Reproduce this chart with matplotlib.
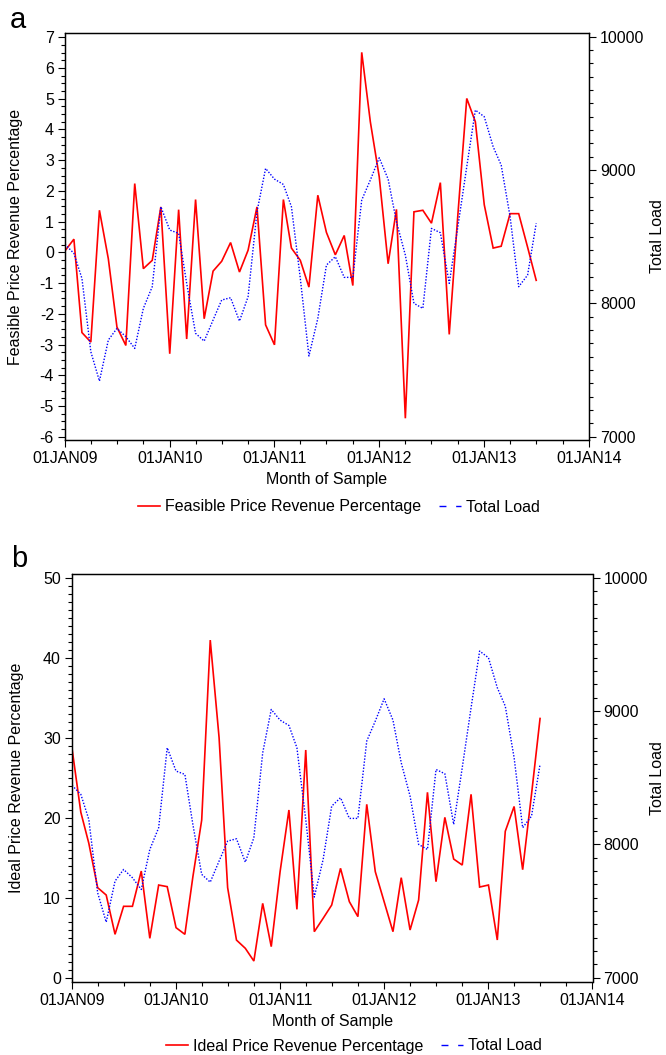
import matplotlib
matplotlib.use('Agg')
import matplotlib.pyplot as plt
import matplotlib.dates as mdates
from matplotlib.ticker import MultipleLocator, FixedLocator
from matplotlib.lines import Line2D
import pandas as pd

plt.rcParams['font.family'] = ['Liberation Sans', 'DejaVu Sans']

# ---------------- data ----------------
months = pd.date_range('2009-01-01', periods=55, freq='MS')

feasible = [0.05, 0.43, -2.61, -2.92, 1.37, -0.21, -2.43, -3.03, 2.24, -0.53,
            -0.26, 1.48, -3.30, 1.39, -2.82, 1.72, -2.16, -0.61, -0.29, 0.32,
            -0.64, 0.07, 1.48, -2.36, -3.01, 1.72, 0.14, -0.26, -1.13, 1.86,
            0.65, -0.08, 0.55, -1.08, 6.51, 4.25, 2.46, -0.37, 1.40, -5.40,
            1.32, 1.37, 0.95, 2.27, -2.67, 1.22, 5.01, 4.25, 1.55, 0.14,
            0.20, 1.26, 1.26, 0.17, -0.91]

ideal = [28.67, 20.67, 16.8, 11.25, 10.33, 5.42, 8.92, 8.92, 13.33, 4.92,
         11.58, 11.38, 6.25, 5.42, 12.6, 19.7, 42.2, 30.0, 11.25, 4.7,
         3.67, 2.08, 9.29, 3.88, 13.25, 20.96, 8.54, 28.46, 5.75, 7.42,
         9.08, 13.67, 9.5, 7.63, 21.67, 13.25, 9.5, 5.75, 12.5, 5.96,
         9.71, 23.17, 12.0, 20.04, 14.83, 14.08, 22.92, 11.33, 11.58, 4.71,
         18.3, 21.4, 13.5, 22.9, 32.4]

total_load = [8443, 8375, 8187, 7637, 7417, 7725, 7812, 7750, 7662, 7962,
              8125, 8725, 8550, 8525, 8150, 7775, 7717, 7875, 8025, 8042,
              7867, 8050, 8687, 9012, 8932, 8892, 8725, 8187, 7605, 7887,
              8287, 8350, 8195, 8195, 8775, 8925, 9092, 8932, 8612, 8362,
              8000, 7962, 8562, 8530, 8150, 8575, 9025, 9450, 9400, 9175,
              9037, 8650, 8125, 8212, 8600]

year_ticks = pd.date_range('2009-01-01', '2014-01-01', freq='YS')
quarter_ticks = pd.date_range('2009-01-01', '2014-01-01', freq='QS')
x_tick_labels = ['01JAN09', '01JAN10', '01JAN11', '01JAN12', '01JAN13', '01JAN14']

feasible_ticks = list(range(-6, 8))
ideal_ticks = [0, 10, 20, 30, 40, 50]
load_ticks = [7000, 8000, 9000, 10000]

RED = '#FF0000'
BLUE = '#0000FF'
FS = 11.5
W, H = 666, 1055

fig = plt.figure(figsize=(W / 100, H / 100), dpi=100)


def make_panel(rect, series, ylabel, ylim, yticks, yminor, rylim,
               ylab_x, rlab_x, xlab_y):
    ax = fig.add_axes(rect)
    ax.plot(months, series, color=RED, lw=1.2, solid_joinstyle='miter')
    ax.set_xlim(year_ticks[0], year_ticks[-1])
    ax.set_ylim(*ylim)
    ax.set_yticks(yticks)
    ax.set_yticklabels([str(t) for t in yticks])
    ax.yaxis.set_minor_locator(MultipleLocator(yminor))
    ax.set_xticks(year_ticks)
    ax.set_xticklabels(x_tick_labels)
    ax.xaxis.set_minor_locator(FixedLocator(mdates.date2num(quarter_ticks)))
    ax.tick_params(which='major', direction='out', length=5, width=0.8,
                   labelsize=FS, pad=3)
    ax.tick_params(which='minor', direction='out', length=3, width=0.8)
    ax.set_ylabel(ylabel, fontsize=FS)
    ax.yaxis.set_label_coords(ylab_x, 0.5)
    ax.set_xlabel('Month of Sample', fontsize=FS)
    ax.xaxis.set_label_coords(0.5, xlab_y)

    ax2 = ax.twinx()
    ax2.plot(months, total_load, color=BLUE, lw=1.0, linestyle=(0, (1, 1.2)))
    ax2.set_ylim(*rylim)
    ax2.set_yticks(load_ticks)
    ax2.set_yticklabels([str(t) for t in load_ticks])
    ax2.yaxis.set_minor_locator(MultipleLocator(100))
    ax2.tick_params(which='major', direction='out', length=5, width=0.8,
                    labelsize=FS, pad=3)
    ax2.tick_params(which='minor', direction='out', length=3, width=0.8)
    ax2.set_ylabel('Total Load', fontsize=FS)
    ax2.yaxis.set_label_coords(rlab_x, 0.5)
    for a in (ax, ax2):
        for s in a.spines.values():
            s.set_linewidth(0.9)
    return ax, ax2


# panel a
make_panel([65 / W, 1 - 440 / H, 524 / W, 407 / H], feasible,
           'Feasible Price Revenue Percentage',
           (-6.107, 7.14), feasible_ticks, 0.25, (6975, 10028),
           -0.080, 1.116, -0.079)

# panel b
make_panel([72 / W, 1 - 982 / H, 520.5 / W, 408 / H], ideal,
           'Ideal Price Revenue Percentage',
           (-0.54, 50.46), ideal_ticks, 1, (6968, 10028),
           -0.093, 1.110, -0.078)

red_h = Line2D([], [], color=RED, lw=1.2)
blue_h = Line2D([], [], color=BLUE, lw=1.0, linestyle=(0, (5, 7)))

fig.legend([red_h, blue_h], ['Feasible Price Revenue Percentage', 'Total Load'],
           loc='center', bbox_to_anchor=(339 / W, 1 - 507 / H), ncol=2,
           frameon=False, fontsize=FS, handlelength=1.4, handletextpad=0.3,
           columnspacing=1.1, borderpad=0, borderaxespad=0)
fig.legend([red_h, blue_h], ['Ideal Price Revenue Percentage', 'Total Load'],
           loc='center', bbox_to_anchor=(354 / W, 1 - 1046 / H), ncol=2,
           frameon=False, fontsize=FS, handlelength=1.4, handletextpad=0.3,
           columnspacing=1.1, borderpad=0, borderaxespad=0)

fig.text(10 / W, 1 - 28 / H, 'a', fontsize=21, va='baseline', ha='left')
fig.text(11 / W, 1 - 567 / H, 'b', fontsize=21, va='baseline', ha='left')

fig.savefig('out.png', dpi=100)
